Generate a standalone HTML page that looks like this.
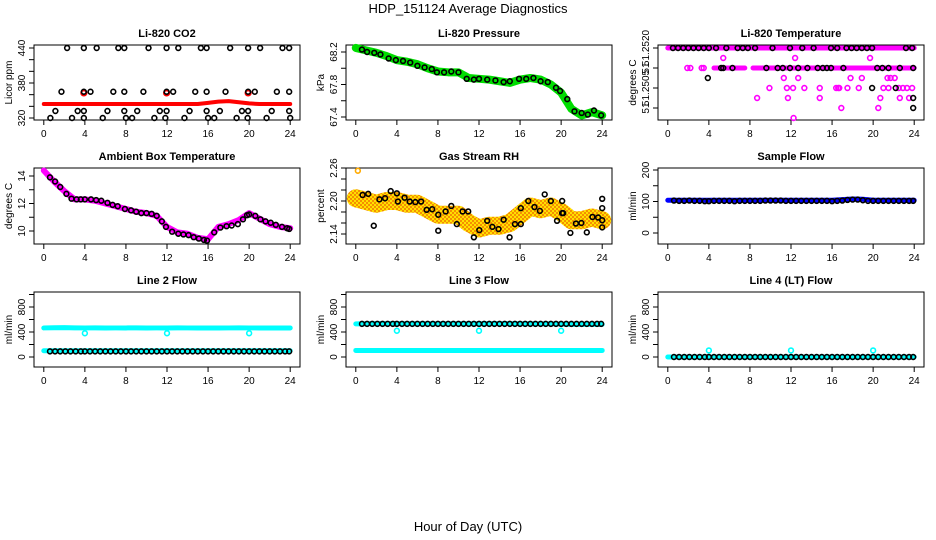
<!DOCTYPE html>
<html><head><meta charset="utf-8"><style>
html,body{margin:0;padding:0;background:#fff}
svg{display:block;font-family:"Liberation Sans",sans-serif}
</style></head><body>
<svg id="chart" width="936" height="540" viewBox="0 0 936 540" xmlns="http://www.w3.org/2000/svg">
<defs>
<pattern id="rhpat" width="4" height="4" patternUnits="userSpaceOnUse">
<rect width="4" height="4" fill="#ffe000"/><rect width="2" height="2" fill="#f59000"/><rect x="2" y="2" width="2" height="2" fill="#f59000"/>
</pattern>
</defs>
<text x="468" y="13" font-size="13" text-anchor="middle">HDP_151124  Average Diagnostics</text>
<text x="468" y="531" font-size="13" text-anchor="middle">Hour of Day (UTC)</text>
</svg>
<script>
// ---- data ----
const xTicks = [0,4,8,12,16,20,24];
const xTickLabels = ["0","4","8","12","16","20","24"];
const denseHours = [0,1,2,3,4,5,6,7,8,9,10,11,12,13,14,15,16,17,18,19,20,21,22,23,24];

// CO2
const co2Red = [344,344,344,344,344,344,344,344,344,344,344,344,344,344,344,344,346,348,349,347,345,344,344,344,344];
const co2TopH = [2.27,3.9,5.15,7.26,7.84,10.2,11.96,13.1,15.3,15.86,18.15,19.9,21.07,23.25,23.9];
const co2TopV = [440,440,440,440,440,440,440,440,440,440,440,440,440,440,440];
const co2SqH = [1.72,3.9,4.55,6.77,7.84,9.7,11.96,12.6,14.75,15.86,17.7,19.9,20.55,22.7,23.9];
const co2SqV = [365,365,365,365,365,365,365,365,365,365,365,365,365,365,365];
const co2MidH = [1.13,3.3,3.9,6.2,7.84,9.1,11.3,11.96,14.2,15.86,17.15,19.3,19.9,22.2,23.9];
const co2MidV = [332,332,332,332,332,332,332,332,332,332,332,332,332,332,332];
const co2LowH = [0.64,2.75,3.9,5.74,8.0,8.6,10.77,11.84,13.7,16.0,16.6,18.78,19.85,21.7,24];
const co2LowV = [320,320,320,320,320,320,320,320,320,320,320,320,320,320,320];
const co2RedPtH = [3.9,11.96,19.9];
const co2RedPtV = [363,363,363];

// Pressure
const presGreen = [68.25,68.22,68.19,68.15,68.1,68.08,68.05,68.0,67.96,67.95,67.95,67.88,67.87,67.86,67.84,67.82,67.86,67.88,67.86,67.8,67.7,67.5,67.42,67.46,67.42];
const presBlkH = [0.6,1.1,1.8,2.4,3.2,3.9,4.6,5.3,6.0,6.7,7.4,7.9,8.6,9.3,10.0,10.8,11.5,12.0,12.8,13.6,14.4,15.0,15.9,16.6,17.3,18.0,18.7,19.5,19.9,20.6,21.3,22.0,22.6,23.2,23.9];
const presBlkV = [68.23,68.2,68.19,68.17,68.12,68.1,68.09,68.07,68.03,68.01,67.99,67.95,67.95,67.96,67.95,67.87,67.86,67.87,67.86,67.85,67.83,67.84,67.87,67.87,67.88,67.84,67.83,67.76,67.72,67.62,67.47,67.45,67.43,67.48,67.42];

// Li-820 temperature (discrete levels, 0 = top)
const tempTickLevels = [0,2,4,6];
const tempTickLabels = ["51.2520","51","51.2505","51"];
const tempPinkBand0 = [0,24];
const tempPinkBand2a = [4.5,7.5];
const tempPinkBand2b = [8.3,24];
const tempPinkH = [5.4,12.4,19.7, 1.9,2.2,3.3,3.5, 11.3,12.7,17.8,18.9,21.4,21.7,22.1, 9.9,11.6,12.2,13.3,14.8,16.4,16.6,16.7,17.5,18.6,21,21.5,22.5,22.9,23.3,23.8, 8.7,11.7,14.8,20.7,22.6,23.5, 16.9,20.5, 12.25];
const tempPinkL = [1,1,1, 2,2,2,2, 3,3,3,3,3,3,3, 4,4,4,4,4,4,4,4,4,4,4,4,4,4,4,4, 5,5,5,5,5,5, 6,6, 7];
const tempBlkH = [0.5,1,1.5,2,2.5,3,3.5,4,4.7,5.7,6.8,7.3,7.8,8.5,10.2,11.9,13.1,14.2,15.9,16.5,17.4,17.9,18.4,18.9,19.4,19.9,23.2,23.8, 5.2,5.4,6.3,9.6,10.7,11.2,11.9,12.7,13.6,14.6,15.1,15.5,15.9,17.1,20.4,20.9,21.5,22.6,23.9, 3.9,19.9,22.2,23.9,23.9];
const tempBlkL = [0,0,0,0,0,0,0,0,0,0,0,0,0,0,0,0,0,0,0,0,0,0,0,0,0,0,0,0, 2,2,2,2,2,2,2,2,2,2,2,2,2,2,2,2,2,2,2, 3,4,4,5,6];

// Ambient box temperature
const ambMag = [14.4,13.6,12.9,12.3,12.3,12.2,12.0,11.8,11.6,11.4,11.3,11.1,10.3,9.9,9.8,9.5,9.4,10.3,10.5,10.8,11.3,10.9,10.5,10.3,10.2];
const ambBlkH = [0.6,1.1,1.6,2.2,2.7,3.2,3.6,4.0,4.6,5.1,5.6,6.2,6.7,7.2,7.9,8.5,9.0,9.5,10.0,10.5,11.0,11.5,11.9,12.5,13.1,13.6,14.1,14.6,15.1,15.6,15.9,16.6,17.2,17.8,18.3,18.9,19.4,19.8,20.0,20.6,21.1,21.6,22.1,22.6,23.2,23.7,23.9];
const ambBlkV = [13.9,13.6,13.2,12.7,12.35,12.3,12.3,12.3,12.3,12.25,12.2,12.05,11.9,11.8,11.6,11.5,11.4,11.3,11.3,11.25,11.1,10.7,10.3,9.95,9.8,9.75,9.7,9.55,9.45,9.35,9.3,9.9,10.25,10.35,10.4,10.5,10.85,11.15,11.2,11.1,10.85,10.7,10.6,10.45,10.3,10.2,10.15];

// Gas stream RH
const rhBand = [2.205,2.2,2.195,2.2,2.2,2.195,2.195,2.185,2.175,2.175,2.175,2.16,2.15,2.155,2.155,2.16,2.175,2.19,2.185,2.19,2.18,2.165,2.165,2.17,2.165];
const rhBlkH = [0.66,1.21,2.3,2.85,3.4,4.0,4.1,4.75,5.25,5.8,6.36,6.9,7.44,8.03,8.75,9.3,9.84,10.4,10.95,11.5,12.03,12.8,13.3,13.9,14.4,14.98,15.5,16.07,16.07,16.8,17.4,17.93,18.4,19.0,19.6,20.1,20.1,20.2,20.9,21.44,21.97,22.5,23.05,23.6,24,24,24,24,1.75,8.03];
const rhBlkV = [2.211,2.213,2.203,2.205,2.218,2.214,2.199,2.206,2.199,2.198,2.199,2.184,2.185,2.175,2.181,2.191,2.158,2.181,2.181,2.134,2.147,2.164,2.153,2.149,2.166,2.134,2.158,2.158,2.187,2.2,2.189,2.182,2.212,2.2,2.164,2.178,2.2,2.178,2.142,2.159,2.16,2.143,2.171,2.17,2.187,2.204,2.152,2.165,2.155,2.146];

// Sample flow
const sampleBlue = [104,104,104,104,104,104,104,104,104,104,104,104,104,104,104,104,104,106,108,107,104,104,104,104,104];
const flowH = [0.6,1.1,1.6,2.1,2.6,3.1,3.6,4.0,4.5,5.0,5.5,6.0,6.5,7.0,7.5,8.0,8.5,9.0,9.5,10.0,10.5,11.0,11.5,12.0,12.5,13.0,13.5,14.0,14.5,15.0,15.5,16.0,16.5,17.0,17.5,18.0,18.5,19.0,19.5,20.0,20.5,21.0,21.5,22.0,22.5,23.0,23.5,23.9];
const sampleBlkV = [103,102,102,103,102,102,101,101,102,102,102,102,101,102,102,102,102,102,103,103,103,103,102,102,102,102,102,102,102,102,102,101,102,103,105,106,106,104,102,102,102,102,102,102,102,102,102,102];

// Line 2
const line2High = [465,468,470,466,465,466,464,465,465,466,464,465,465,466,465,465,465,464,465,466,465,465,465,465,465];
const line2Low = [100,100,100,100,100,100,100,100,100,100,100,100,100,100,100,100,100,100,100,100,100,100,100,100,100];
const line2BlkV = 90;
const line2OutH = [4,12,20];
const line2OutV = [380,380,380];
// Line 3
const line3High = [530,532,535,534,535,532,532,532,532,532,533,533,533,534,535,535,532,532,531,531,525,522,522,522,522];
const line3Low = [105,105,105,105,105,105,105,105,105,105,105,105,105,105,105,105,105,105,105,105,105,105,105,105,105];
const line3BlkV = 530;
const line3OutH = [4,12,20];
const line3OutV = [420,420,420];
// Line 4
const line4Cyan = [0,0,0,0,0,0,0,0,0,0,0,0,0,0,0,0,0,0,0,0,0,0,0,0,0];
const line4BlkV = 0;
const line4OutH = [4,12,20];
const line4OutV = [105,105,105];

// ---- drawing ----
const svg = document.getElementById('chart');
const NS = 'http://www.w3.org/2000/svg';
function mk(tag, attrs, parent){ const e=document.createElementNS(NS,tag); for(const k in attrs) e.setAttribute(k,attrs[k]); (parent||svg).appendChild(e); return e; }

function panel(cfg){
  const L = 34 + cfg.col*312, R = L + 266;
  const T = [45,168,292][cfg.row], B = [120,244,367][cfg.row];
  const g = mk('g',{});
  
  
  const xs = h => L + 9.8 + h*(246.4/24);
  const ys = v => cfg.p1 + (v - cfg.v1)*(cfg.p2-cfg.p1)/(cfg.v2-cfg.v1);
  const t = mk('text',{x:(L+R)/2,y:T-8,'font-size':11,'font-weight':'bold','text-anchor':'middle'},g);
  t.textContent = cfg.title;
  
  
  const box = mk('rect',{x:L,y:T,width:R-L,height:B-T,fill:'none',stroke:'#000','stroke-width':1},g);
  
  
  const xa = mk('g',{},g);
  
  
  mk('line',{x1:xs(xTicks[0]),x2:xs(xTicks[xTicks.length-1]),y1:B,y2:B,stroke:'#000'},xa);
  xTicks.forEach((v,i)=>{
    mk('line',{x1:xs(v),x2:xs(v),y1:B,y2:B+5,stroke:'#000'},xa);
    const tl = mk('text',{x:xs(v),y:B+17,'font-size':10,'text-anchor':'middle'},xa);
    tl.textContent = xTickLabels[i];
    
    
  });
  const ya = mk('g',{},g);
  
  
  mk('line',{x1:L,x2:L,y1:ys(cfg.ticks[0]),y2:ys(cfg.ticks[cfg.ticks.length-1]),stroke:'#000'},ya);
  cfg.ticks.forEach(v=>{ mk('line',{x1:L-5,x2:L,y1:ys(v),y2:ys(v),stroke:'#000'},ya); });
  cfg.labelTicks.forEach((v,i)=>{
    const yy = ys(v);
    const tl = mk('text',{x:L-9,y:yy,'font-size':10,'text-anchor':'middle',transform:`rotate(-90 ${L-9} ${yy})`},ya);
    tl.textContent = cfg.labels[i];
    
    
  });
  const yt = mk('text',{x:L-22,y:(T+B)/2,'font-size':10,'text-anchor':'middle',transform:`rotate(-90 ${L-22} ${(T+B)/2})`},g);
  yt.textContent = cfg.ylab;
  
  
  return {g,xs,ys};
}
function band(p, hours, vals, color, w, name){
  const pts = hours.map((h,i)=>p.xs(h)+','+p.ys(vals[i])).join(' ');
  const e = mk('polyline',{points:pts,fill:'none',stroke:color,'stroke-width':w,'stroke-linejoin':'round','stroke-linecap':'round'},p.g);
  
  
}
function pts(p, hours, vals, color, name, r, sw){
  hours.forEach((h,i)=>{
    const v = Array.isArray(vals) ? vals[i] : vals;
    const c = mk('circle',{cx:p.xs(h),cy:p.ys(v),r:r||2.4,fill:'none',stroke:color,'stroke-width':sw||1.6},p.g);
    
    
  });
}

let p = panel({name:'co2-panel',col:0,row:0,title:'Li-820 CO2',ylab:'Licor ppm',v1:440,p1:48,v2:320,p2:118,ticks:[320,340,360,380,400,420,440],labelTicks:[320,380,440],labels:['320','380','440']});
band(p, denseHours, co2Red, '#ff0000', 4, 'co2-red-series');
pts(p, co2RedPtH, co2RedPtV, '#ff0000', 'co2-red-point', 2.6, 2);
pts(p, co2TopH, co2TopV, '#000', 'co2-point');
pts(p, co2SqH, co2SqV, '#000', 'co2-point');
pts(p, co2MidH, co2MidV, '#000', 'co2-point');
pts(p, co2LowH, co2LowV, '#000', 'co2-point');

p = panel({name:'pressure-panel',col:1,row:0,title:'Li-820 Pressure',ylab:'kPa',v1:68.2,p1:52,v2:67.4,p2:117,ticks:[67.4,67.6,67.8,68.0,68.2],labelTicks:[67.4,67.8,68.2],labels:['67.4','67.8','68.2']});
band(p, denseHours, presGreen, '#00dd00', 8, 'pressure-green-series');
pts(p, presBlkH, presBlkV, '#000', 'pressure-point');

p = panel({name:'li820-temperature-panel',col:2,row:0,title:'Li-820 Temperature',ylab:'degrees C',v1:0,p1:48,v2:6,p2:108,ticks:tempTickLevels,labelTicks:tempTickLevels,labels:tempTickLabels});
band(p, tempPinkBand0, [0,0], '#ff00ff', 5, 'temp-pink-band');
band(p, tempPinkBand2a, [2,2], '#ff00ff', 5, 'temp-pink-band');
band(p, tempPinkBand2b, [2,2], '#ff00ff', 5, 'temp-pink-band');
pts(p, tempPinkH, tempPinkL, '#ff00ff', 'temp-pink-point');
pts(p, tempBlkH, tempBlkL, '#000', 'temp-point');

p = panel({name:'ambient-temperature-panel',col:0,row:1,title:'Ambient Box Temperature',ylab:'degrees C',v1:14,p1:176,v2:10,p2:231,ticks:[10,11,12,13,14],labelTicks:[10,12,14],labels:['10','12','14']});
band(p, denseHours, ambMag, '#ff00ff', 6, 'ambient-magenta-series');
pts(p, ambBlkH, ambBlkV, '#000', 'ambient-point');

p = panel({name:'gas-rh-panel',col:1,row:1,title:'Gas Stream RH',ylab:'percent',v1:2.26,p1:168,v2:2.14,p2:234,ticks:[2.14,2.16,2.18,2.20,2.22,2.24,2.26],labelTicks:[2.14,2.20,2.26],labels:['2.14','2.20','2.26']});
band(p, denseHours, rhBand, 'url(#rhpat)', 18, 'rh-orange-cloud');
pts(p, [0.2],[2.255], '#ffaa00', 'rh-orange-point');
pts(p, rhBlkH, rhBlkV, '#000', 'rh-point');

p = panel({name:'sample-flow-panel',col:2,row:1,title:'Sample Flow',ylab:'ml/min',v1:200,p1:170,v2:0,p2:233,ticks:[0,50,100,150,200],labelTicks:[0,100,200],labels:['0','100','200']});
band(p, denseHours, sampleBlue, '#0000ff', 5, 'sample-blue-series');
pts(p, flowH, sampleBlkV, '#000', 'sample-point');

const flowTicks=[0,200,400,600,800,1000];
p = panel({name:'line2-flow-panel',col:0,row:2,title:'Line 2 Flow',ylab:'ml/min',v1:800,p1:307,v2:0,p2:357,ticks:flowTicks,labelTicks:[0,400,800],labels:['0','400','800']});
band(p, denseHours, line2High, '#00ffff', 5, 'line2-cyan-high');
band(p, denseHours, line2Low, '#00ffff', 5, 'line2-cyan-low');
pts(p, line2OutH, line2OutV, '#00ffff', 'line2-cyan-point');
pts(p, flowH, line2BlkV, '#000', 'line2-point');

p = panel({name:'line3-flow-panel',col:1,row:2,title:'Line 3 Flow',ylab:'ml/min',v1:800,p1:307,v2:0,p2:357,ticks:flowTicks,labelTicks:[0,400,800],labels:['0','400','800']});
band(p, denseHours, line3High, '#00ffff', 5, 'line3-cyan-high');
band(p, denseHours, line3Low, '#00ffff', 5, 'line3-cyan-low');
pts(p, line3OutH, line3OutV, '#00ffff', 'line3-cyan-point');
pts(p, flowH, line3BlkV, '#000', 'line3-point');

p = panel({name:'line4-flow-panel',col:2,row:2,title:'Line 4 (LT) Flow',ylab:'ml/min',v1:800,p1:307,v2:0,p2:357,ticks:flowTicks,labelTicks:[0,400,800],labels:['0','400','800']});
band(p, denseHours, line4Cyan, '#00ffff', 5, 'line4-cyan-series');
pts(p, line4OutH, line4OutV, '#00ffff', 'line4-cyan-point');
pts(p, flowH, line4BlkV, '#000', 'line4-point');
</script>
</body></html>
